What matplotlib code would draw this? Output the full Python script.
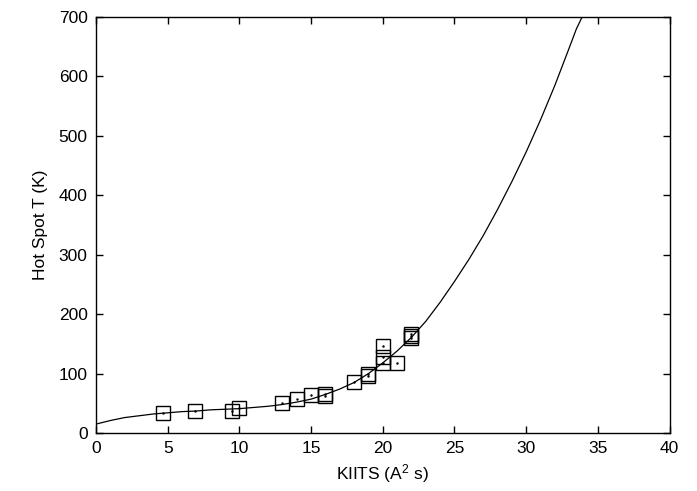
import matplotlib
matplotlib.use('Agg')
import matplotlib.pyplot as plt

plt.rcParams['font.family'] = ['Liberation Sans', 'DejaVu Sans']
plt.rcParams['mathtext.default'] = 'regular'

# measured hot spot temperatures
kiits = [4.7, 6.9, 9.5, 10.0, 13.0, 14.0, 15.0, 16.0, 16.0, 18.0,
         19.0, 19.0, 20.0, 20.0, 20.0, 21.0, 22.0, 22.0, 22.0]
hot_t = [34, 37, 37, 42, 50, 57, 64, 63, 66, 85,
         96, 100, 147, 128, 118, 118, 160, 163, 166]

# fitted curve
fit_x = [0, 1, 2, 3, 4, 5, 6, 7, 8, 9, 10, 11, 12, 13, 14, 15, 16, 17, 18,
         19, 20, 21, 22, 23, 24, 25, 26, 27, 28, 29, 30, 31, 32, 33, 33.5, 33.9]
fit_y = [15, 21, 26, 29, 32, 34, 36, 37, 39, 40, 41, 43, 45, 48, 52, 57, 65, 74, 85,
         100, 118, 138, 161, 188, 220, 255, 292, 332, 376, 423, 473, 527, 585, 648, 680, 700]

xticks = [0, 5, 10, 15, 20, 25, 30, 35, 40]
yticks = [0, 100, 200, 300, 400, 500, 600, 700]

fig = plt.figure(figsize=(6.97, 4.91), dpi=100)
ax = fig.add_axes([0.1377, 0.1181, 0.823, 0.8473])

ax.plot(fit_x, fit_y, color='black', lw=0.9)
ax.plot(kiits, hot_t, 's', ms=9.5, mfc='none', mec='black', mew=1.0)
ax.plot(kiits, hot_t, '.', ms=1.5, color='black')

ax.set_xlim(0, 40)
ax.set_ylim(0, 700)
ax.set_xticks(xticks)
ax.set_yticks(yticks)
ax.tick_params(direction='in', length=5, width=1, top=True, right=True,
               labelsize=12.5, pad=6)
for s in ax.spines.values():
    s.set_linewidth(1)

ax.set_xlabel(r'KIITS (A$^{2}$ s)', fontsize=12.5, labelpad=4)
ax.set_ylabel('Hot Spot T (K)', fontsize=12.5, labelpad=8)

fig.savefig('out.png', dpi=100)
